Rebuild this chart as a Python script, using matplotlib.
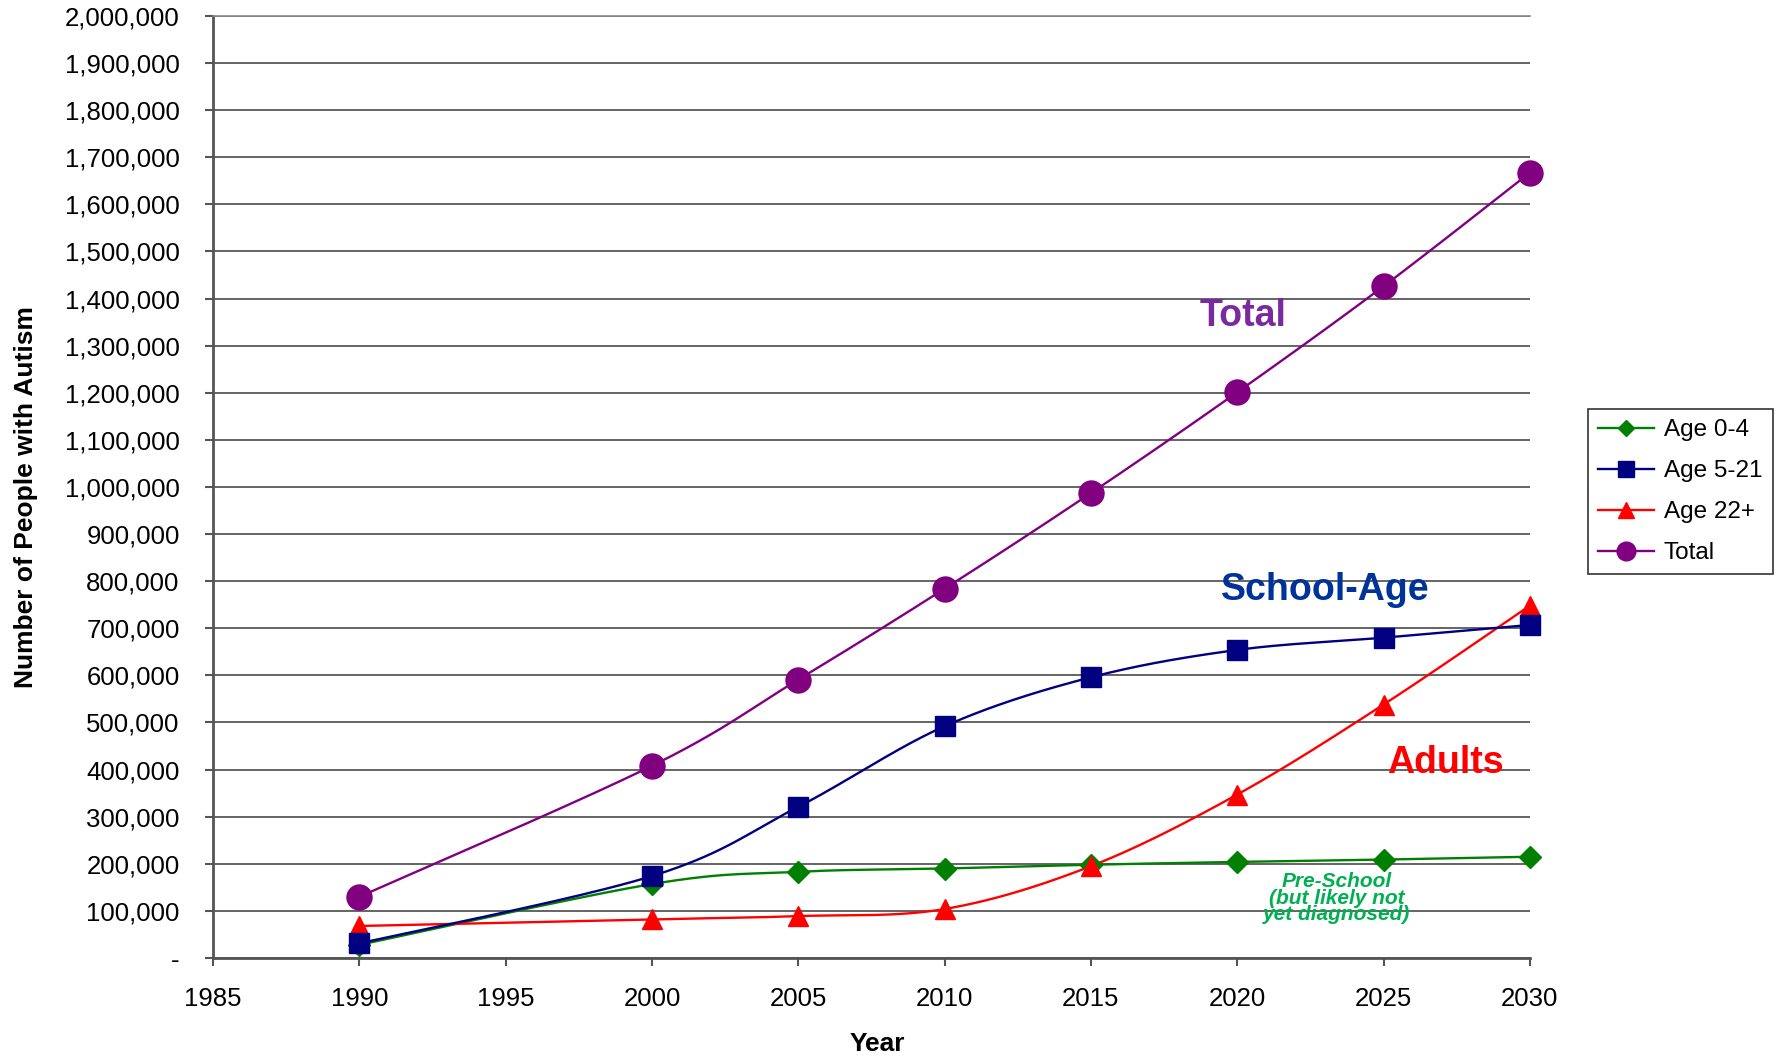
import numpy as np
import matplotlib
matplotlib.use("Agg")
import matplotlib.pyplot as plt
from matplotlib.lines import Line2D
from matplotlib.ticker import FuncFormatter

plt.rcParams['font.family'] = ['Liberation Sans', 'DejaVu Sans']

years = [1990, 2000, 2005, 2010, 2015, 2020, 2025, 2030]
age_0_4 = [28000, 157000, 183000, 190000, 198000, 204000, 209000, 215000]
age_5_21 = [31000, 174000, 321000, 492000, 596000, 654000, 680000, 707000]
age_22p = [68000, 82000, 89000, 104000, 195000, 347000, 538000, 748000]
total = [130000, 408000, 591000, 784000, 987000, 1201000, 1426000, 1667000]

series_labels = ["Age 0-4", "Age 5-21", "Age 22+", "Total"]
y_ticks = list(range(0, 2000001, 100000))
x_ticks = [1985, 1990, 1995, 2000, 2005, 2010, 2015, 2020, 2025, 2030]


def smooth(x, y, n=40):
    P = np.column_stack([np.asarray(x, float), np.asarray(y, float)])
    P = np.vstack([P[0], P, P[-1]])
    out = []
    t = np.linspace(0, 1, n)[:, None]
    for i in range(1, len(P) - 2):
        p0, p1, p2, p3 = P[i - 1], P[i], P[i + 1], P[i + 2]
        seg = 0.5 * (2 * p1 + (-p0 + p2) * t + (2 * p0 - 5 * p1 + 4 * p2 - p3) * t ** 2
                     + (-p0 + 3 * p1 - 3 * p2 + p3) * t ** 3)
        out.append(seg if i == 1 else seg[1:])
    s = np.vstack(out)
    return s[:, 0], s[:, 1]


fig = plt.figure(figsize=(17.83, 10.58), dpi=100)
ax = fig.add_axes([0.1195, 0.0945, 0.7385, 0.8905])

styles = [
    (age_0_4, '#008000', 'D', 11, 3),
    (age_5_21, '#000080', 's', 14.5, 5),
    (age_22p, '#FF0000', '^', 15, 4),
    (total, '#800080', 'o', 18, 6),
]
handles = []
for (vals, col, mk, ms, z), lab in zip(styles, series_labels):
    sx, sy = smooth(years, vals)
    ax.plot(sx, sy, color=col, lw=1.7, zorder=z, solid_capstyle='round')
    ax.plot(years, vals, linestyle='none', marker=mk, ms=ms, color=col,
            markeredgecolor=col, zorder=z + 4, clip_on=False)
    handles.append(Line2D([], [], color=col, lw=1.7, marker=mk,
                          ms=ms * 0.75, markeredgecolor=col, label=lab))

ax.set_xlim(1985, 2030)
ax.set_ylim(0, 2000000)
ax.set_xticks(x_ticks)
ax.set_yticks(y_ticks)
ax.yaxis.set_major_formatter(FuncFormatter(lambda v, p: '-' if v == 0 else f"{int(v):,}"))
ax.grid(axis='y', color='#4a4a4a', lw=1.2, zorder=0)
ax.set_axisbelow(True)

ax.spines['right'].set_visible(False)
ax.spines['top'].set_color('#8a8a8a')
ax.spines['top'].set_linewidth(1.2)
for s in ['left', 'bottom']:
    ax.spines[s].set_color('#555555')
    ax.spines[s].set_linewidth(2)

ax.tick_params(axis='y', direction='out', length=6, width=1.5, color='#555555',
               labelsize=18.5, pad=18)
ax.tick_params(axis='x', direction='out', length=6, width=1.5, color='#555555',
               labelsize=18.5, pad=15)

fig.text(0.0145, 0.530, 'Number of People with Autism',
         rotation=90, fontsize=19, fontweight='bold', ha='center', va='center')
fig.text(877 / 1783, 1 - 1044 / 1058, 'Year', fontsize=19, fontweight='bold',
         ha='center', va='center')

ax.text(2020.2, 1362000, 'Total', color='#7A2A9E', fontsize=27, fontweight='bold',
        ha='center', va='center', zorder=20)
ax.text(2023.0, 782000, 'School-Age', color='#003399', fontsize=27, fontweight='bold',
        ha='center', va='center', zorder=20)
ax.text(2027.1, 414000, 'Adults', color='#FF0000', fontsize=27, fontweight='bold',
        ha='center', va='center', zorder=20)
ax.text(2023.4, 127000, 'Pre-School\n(but likely not\nyet diagnosed)', color='#00B050',
        fontsize=15, fontweight='bold', fontstyle='italic', ha='center', va='center',
        linespacing=0.85, zorder=20)

leg = fig.legend(handles=handles, loc='upper left', bbox_to_anchor=(1588 / 1783, 1 - 409 / 1058),
                 fontsize=17.5, frameon=True, fancybox=False, edgecolor='black',
                 handlelength=2.3, handletextpad=0.4, labelspacing=0.78, borderpad=0.42,
                 borderaxespad=0)
leg.get_frame().set_linewidth(1.2)

fig.savefig('out.png', dpi=100)
